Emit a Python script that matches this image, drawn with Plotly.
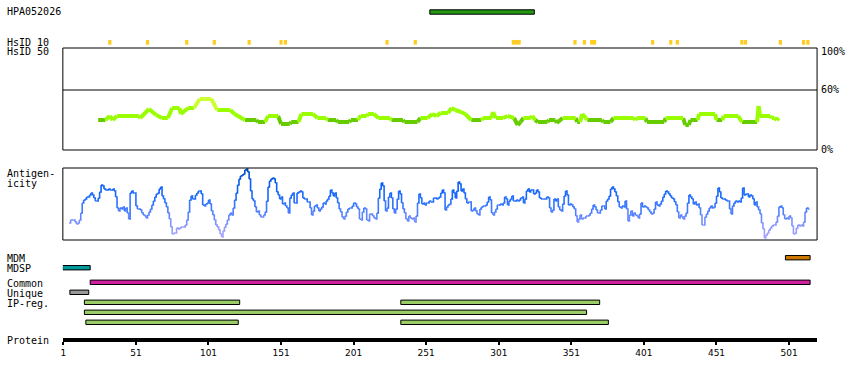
import plotly.graph_objects as go

# ---------------- data ----------------
axis_ticks = [1, 51, 101, 151, 201, 251, 301, 351, 401, 451, 501]
x_range = [0.66, 520.3]

hpa_label = "HPA052026"
hpa_region = [254, 325]

hsid10_sites = [33, 59, 86, 105, 129, 151, 154, 224, 243.5, 311, 313, 315,
                353.5, 360, 365, 367, 407, 419.5, 424, 468.5, 471, 495, 511, 514]

hsid50_pos = [25, 30, 33, 35, 38, 53, 54, 60, 65, 69,
              73, 76, 81, 82, 87, 91, 95, 103, 107, 116,
              119, 126, 134, 135, 140, 142, 149, 151, 157, 158,
              163, 165, 173, 176, 182, 183, 189, 190, 198, 199,
              204, 204.5, 206, 210, 211, 215, 218, 226, 227, 235,
              236, 245, 247, 252, 255, 258, 261, 266, 268.5, 271,
              275, 278, 282, 289, 290, 296, 297, 299, 304, 307,
              311.5, 314, 316, 318, 323, 324, 326, 328, 334.5, 335.5,
              340, 341, 345, 354, 355, 357, 358.5, 361, 362, 372,
              373, 378, 380, 394, 395, 396, 402, 403, 415, 416,
              428, 429.5, 432, 433, 438, 439, 450, 451, 455, 456,
              466, 468.5, 479, 480, 481, 488, 489, 491, 492.5, 494]
hsid50_pct = [30, 30, 34, 30, 34, 34, 32, 41, 35, 32,
              32, 42, 42, 36, 42, 42, 51, 51, 40, 40,
              36, 30, 30, 28, 28, 34, 34, 26, 26, 28,
              28, 36, 36, 32, 32, 30, 30, 28, 28, 30,
              30, 32, 34, 34, 36, 36, 32, 32, 30, 30,
              28, 28, 32, 32, 36, 34, 37, 37, 42, 40,
              38, 36, 30, 30, 32, 32, 38, 32, 32, 34,
              32, 25, 28, 32, 32, 34, 30, 28, 28, 30,
              30, 27, 32, 32, 28, 28, 36, 32, 30, 30,
              28, 28, 32, 32, 30, 32, 32, 28, 28, 32,
              32, 25, 25, 30, 30, 36, 36, 30, 30, 34,
              34, 28, 28, 44, 34, 34, 32, 32, 30, 32]

antigen_start = 5
antigenicity = [
    17, 20, 20, 20, 18, 16, 17, 20, 27, 37,   # 5
    40, 41, 43, 43, 45, 47, 45, 42, 39, 39,   # 15
    42, 48, 55, 54, 51, 50, 50, 51, 50, 50,   # 25
    51, 49, 43, 32, 29, 32, 31, 33, 29, 32,   # 35
    27, 21, 47, 49, 47, 47, 34, 31, 31, 30,   # 45
    27, 25, 24, 22, 25, 28, 31, 35, 39, 43,   # 55
    46, 47, 51, 53, 44, 41, 37, 33, 27, 21,   # 65
    13, 6, 7, 7, 12, 11, 12, 13, 13, 13,      # 75
    15, 20, 28, 40, 44, 41, 41, 45, 47, 49,   # 85
    49, 46, 35, 34, 36, 37, 40, 36, 29, 25,   # 95
    20, 15, 13, 10, 6, 3, 9, 13, 16, 20,      # 105
    25, 27, 25, 32, 40, 47, 55, 61, 64, 65,   # 115
    66, 70, 71, 68, 61, 49, 41, 39, 33, 28,   # 125
    29, 25, 23, 23, 25, 28, 39, 53, 59, 61,   # 135
    62, 61, 57, 48, 45, 41, 43, 36, 37, 34,   # 145
    32, 27, 42, 45, 47, 37, 37, 47, 48, 49,   # 155
    48, 42, 41, 41, 38, 38, 32, 25, 29, 34,   # 165
    35, 32, 29, 31, 33, 37, 36, 39, 41, 44,   # 175
    50, 47, 44, 47, 42, 37, 31, 28, 23, 21,   # 185
    24, 28, 31, 32, 32, 34, 37, 36, 33, 31,   # 195
    21, 20, 28, 32, 31, 20, 19, 26, 26, 24,   # 205
    22, 21, 27, 42, 51, 57, 54, 39, 29, 32,   # 215
    43, 47, 42, 31, 27, 31, 41, 49, 46, 37,   # 225
    31, 27, 21, 19, 24, 22, 21, 22, 18, 24,   # 235
    37, 46, 42, 36, 37, 35, 37, 37, 39, 38,   # 245
    38, 42, 42, 41, 42, 43, 47, 50, 47, 30,   # 255
    33, 35, 36, 41, 50, 47, 42, 49, 58, 56,   # 265
    49, 51, 47, 41, 37, 38, 38, 29, 30, 32,   # 275
    29, 26, 25, 31, 33, 34, 34, 35, 38, 43,   # 285
    40, 27, 25, 28, 31, 35, 35, 36, 35, 37,   # 295
    43, 41, 35, 39, 41, 44, 39, 39, 40, 39,   # 305
    40, 42, 43, 37, 41, 49, 51, 48, 50, 50,   # 315
    46, 47, 50, 48, 42, 41, 41, 41, 41, 43,   # 325
    42, 32, 28, 30, 41, 39, 41, 33, 30, 29,   # 335
    36, 44, 49, 45, 35, 36, 35, 33, 31, 24,   # 345
    18, 21, 25, 21, 22, 22, 24, 24, 25, 27,   # 355
    31, 35, 33, 30, 27, 27, 30, 34, 34, 31,   # 365
    39, 41, 44, 51, 53, 51, 48, 44, 38, 33,   # 375
    32, 34, 33, 39, 31, 19, 25, 29, 24, 27,   # 385
    25, 24, 22, 26, 37, 33, 34, 33, 32, 30,   # 395
    28, 26, 27, 31, 38, 35, 34, 36, 39, 43,   # 405
    46, 49, 48, 46, 44, 42, 41, 38, 35, 28,   # 415
    22, 25, 23, 21, 24, 27, 37, 45, 43, 41,   # 425
    36, 38, 35, 36, 32, 25, 15, 15, 23, 26,   # 435
    29, 32, 34, 32, 33, 37, 44, 52, 48, 42,   # 445
    41, 41, 40, 39, 39, 31, 26, 34, 37, 39,   # 455
    38, 39, 38, 42, 52, 45, 46, 46, 43, 45,   # 465
    44, 41, 35, 38, 33, 30, 26, 17, 11, 2,    # 475
    5, 7, 10, 12, 14, 15, 15, 18, 24, 33,     # 485
    34, 32, 25, 21, 22, 21, 24, 22, 14, 6,    # 495
    7, 12, 15, 14, 15, 14, 18, 28, 32, 31, 31  # 505
]

mdm_regions = [[499, 515]]
mdsp_regions = [[1, 19]]
common_regions = [[20, 515]]
unique_regions = [[6, 18]]
ipreg_rows = [[[16, 122], [234, 370]],
              [[16, 361]],
              [[17, 121], [234, 376]]]

track_labels = ["HsID 10", "HsID 50", "Antigen-", "icity", "MDM", "MDSP",
                "Common", "Unique", "IP-reg.", "Protein"]

# ---------------- figure ----------------
W, H = 850, 380
X0, X1 = 61, 817


def py(px):
    return 1 - px / H


fig = go.Figure()

# ---- HsID50 line (coloured by value) ----
def hs_color(v):
    if v < 31:
        return "#66cc00"
    if v < 45:
        return "#99ff00"
    return "#ccff33"

groups = {}
for i in range(len(hsid50_pos) - 1):
    c = hs_color((hsid50_pct[i] + hsid50_pct[i + 1]) / 2)
    gx, gy = groups.setdefault(c, ([], []))
    gx += [hsid50_pos[i], hsid50_pos[i + 1], None]
    gy += [hsid50_pct[i], hsid50_pct[i + 1], None]
for c in ["#66cc00", "#99ff00", "#ccff33"]:
    if c in groups:
        gx, gy = groups[c]
        fig.add_trace(go.Scatter(x=gx, y=gy, mode="lines", xaxis="x", yaxis="y2",
                                 line=dict(color=c, width=4), hoverinfo="skip"))

# ---- antigenicity line (coloured by value) ----
stops = [(0, (178, 168, 255)), (15, (135, 150, 255)), (28, (80, 128, 255)),
         (42, (30, 108, 255)), (55, (10, 95, 245)), (72, (0, 70, 185))]


def ag_color(v):
    for (a, ca), (b, cb) in zip(stops[:-1], stops[1:]):
        if v <= b:
            t = (v - a) / (b - a)
            return "rgb(%d,%d,%d)" % tuple(round(ca[k] + t * (cb[k] - ca[k])) for k in range(3))
    return "rgb(%d,%d,%d)" % stops[-1][1]

ag_x = [antigen_start + i for i in range(len(antigenicity))]
agroups = {}
for i in range(len(ag_x) - 1):
    key = int(round((antigenicity[i] + antigenicity[i + 1]) / 2))
    gx, gy = agroups.setdefault(key, ([], []))
    gx += [ag_x[i], ag_x[i + 1], ag_x[i + 1], None]
    gy += [antigenicity[i], antigenicity[i], antigenicity[i + 1], None]
for key in sorted(agroups):
    gx, gy = agroups[key]
    fig.add_trace(go.Scatter(x=gx, y=gy, mode="lines", xaxis="x", yaxis="y3",
                             line=dict(color=ag_color(key), width=1.6), hoverinfo="skip"))


# ---- region bars on the track axis (y in pixel rows) ----
def add_regions(regions, row, color, thick=4.4, border=True):
    fig.add_trace(go.Bar(
        orientation="h", y=[row] * len(regions),
        base=[r[0] - 0.5 for r in regions],
        x=[r[1] - r[0] + 1 for r in regions],
        width=thick, xaxis="x", yaxis="y",
        marker=dict(color=color, line=dict(color="black", width=1 if border else 0)),
        hoverinfo="skip"))

add_regions([hpa_region], 12, "#229911")
fig.add_trace(go.Bar(orientation="h", y=[42.3] * len(hsid10_sites),
                     base=[s - 1.1 for s in hsid10_sites], x=[2.2] * len(hsid10_sites),
                     width=4.7, xaxis="x", yaxis="y",
                     marker=dict(color="#ffcc22", line=dict(width=0)), hoverinfo="skip"))
add_regions(mdm_regions, 257.7, "#cc7700")
add_regions(mdsp_regions, 267.7, "#009999")
add_regions(common_regions, 282.3, "#d020a0")
add_regions(unique_regions, 292.3, "#999999")
for k, row in enumerate(ipreg_rows):
    add_regions(row, 302.3 + 10 * k, "#99cc66")

# ---- panel frames ----
fig.add_shape(type="rect", xref="x domain", yref="y2 domain", x0=0, x1=1, y0=0, y1=1,
              line=dict(color="black", width=1))
fig.add_shape(type="line", xref="x domain", yref="y2", x0=0, x1=1, y0=60, y1=60,
              line=dict(color="black", width=1))
fig.add_shape(type="rect", xref="x domain", yref="y3 domain", x0=0, x1=1, y0=0, y1=1,
              line=dict(color="black", width=1))

# ---- text labels ----
lab_font = dict(family="DejaVu Sans Mono", size=10, color="black")
label_rows = [12, 42, 52, 173, 183, 258, 268, 283, 293, 303, 340]
for txt, row in zip([hpa_label] + track_labels, label_rows):
    fig.add_annotation(text=txt, x=3 / W, y=py(row), xref="paper", yref="paper",
                       xanchor="left", yanchor="middle", showarrow=False, font=lab_font)
for txt, v in [("100%", 98), ("60%", 60), ("0%", 0)]:
    fig.add_annotation(text=txt, x=819 / W, y=v, xref="paper", yref="y2",
                       xanchor="left", yanchor="middle", showarrow=False, font=lab_font)

fig.update_layout(
    width=W, height=H, margin=dict(l=0, r=0, t=0, b=0),
    paper_bgcolor="white", plot_bgcolor="white", showlegend=False, barmode="overlay",
    xaxis=dict(domain=[X0 / W, X1 / W], range=x_range, anchor="y",
               showline=True, linewidth=4, linecolor="black",
               ticks="outside", ticklen=3, tickwidth=2, tickcolor="black",
               tickvals=axis_ticks, tickfont=dict(family="DejaVu Sans", size=9, color="black"),
               showgrid=False, zeroline=False),
    yaxis=dict(domain=[1 - 338 / H, 1], range=[338, 0], visible=False),
    yaxis2=dict(domain=[1 - 150 / H, 1 - 48 / H], range=[0, 102], visible=False),
    yaxis3=dict(domain=[1 - 240 / H, 1 - 168 / H], range=[0, 72], visible=False),
)

fig.write_html("out.html", config={"displayModeBar": False},
               post_script="document.body.style.margin='0';document.body.style.padding='0';")
